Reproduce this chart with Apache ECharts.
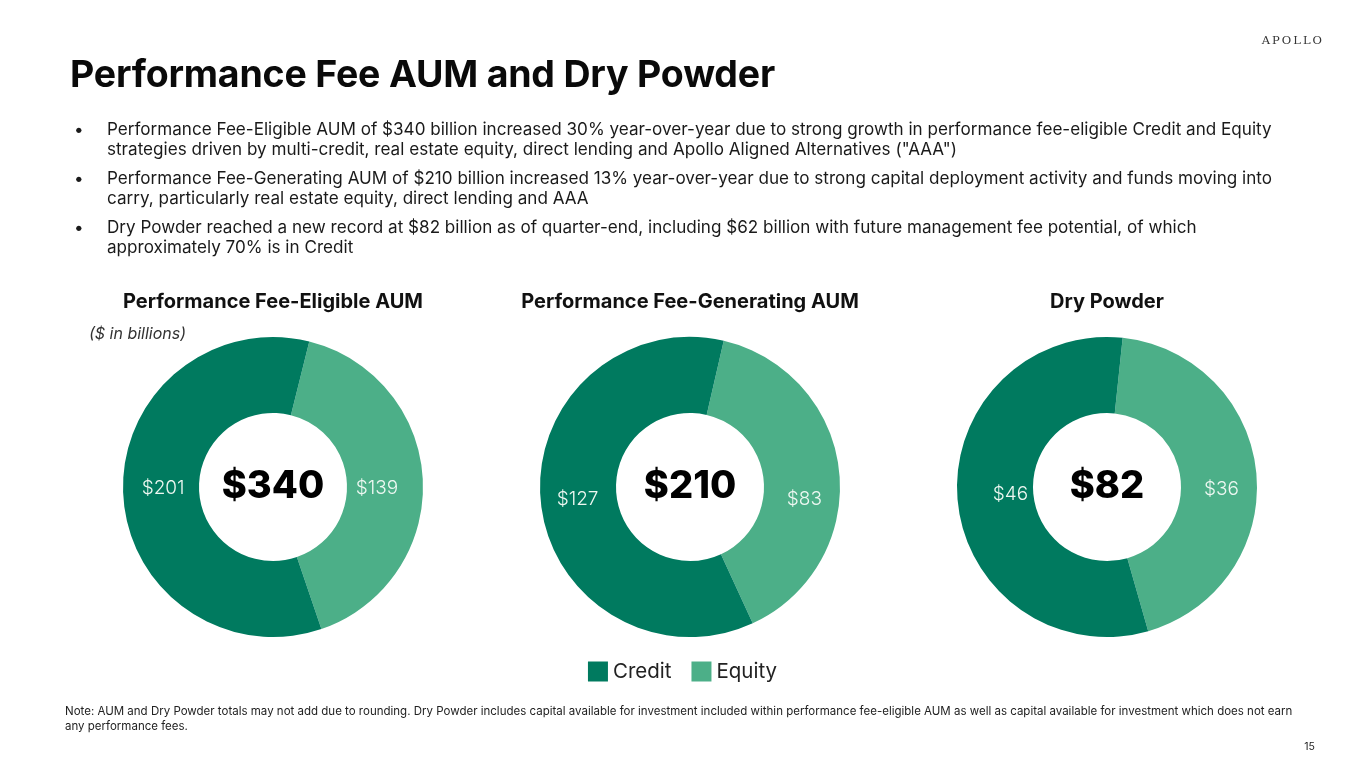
<!DOCTYPE html>
<html>
<head>
<meta charset="utf-8">
<script src="https://cdn.jsdelivr.net/npm/echarts@6/dist/echarts.min.js"></script>
<style>
  html, body { margin: 0; padding: 0; background: #fff; }
  #page { position: relative; width: 1365px; height: 768px; overflow: hidden; font-family: Inter, "Noto Sans", sans-serif; color: #111; }
  #chart { position: absolute; left: 0; top: 0; width: 1365px; height: 768px; }
  .abs { position: absolute; white-space: nowrap; }
  #logo { right: 41px; top: 33px; font-family: "DejaVu Serif", "Liberation Serif", serif; font-size: 11.5px; letter-spacing: 2px; color: #333; }
  #title { left: 70px; top: 51px; font-size: 37.5px; font-weight: 700; letter-spacing: -0.2px; color: #0a0a0a; }
  #bullets { left: 74px; top: 119px; font-size: 17.1px; line-height: 20px; color: #1a1a1a; }
  #bullets .b { position: relative; padding-left: 33px; margin-bottom: 9px; }
  #bullets .b:before { content: "\2022"; position: absolute; left: 0; top: 0; }
  #note { left: 65px; top: 704px; font-size: 11.5px; line-height: 15px; color: #222; }
  #pagenum { right: 50px; top: 740px; font-size: 10.5px; color: #222; }
  #unit { left: 89px; top: 323px; font-size: 16px; font-style: italic; color: #333; }
</style>
</head>
<body>
<div id="page">
  <div id="chart"></div>
  <div id="logo" class="abs">APOLLO</div>
  <div id="title" class="abs">Performance Fee AUM and Dry Powder</div>
  <div id="bullets" class="abs">
    <div class="b">Performance Fee-Eligible AUM of $340 billion increased 30% year-over-year due to strong growth in performance fee-eligible Credit and Equity<br>strategies driven by multi-credit, real estate equity, direct lending and Apollo Aligned Alternatives ("AAA")</div>
    <div class="b">Performance Fee-Generating AUM of $210 billion increased 13% year-over-year due to strong capital deployment activity and funds moving into<br>carry, particularly real estate equity, direct lending and AAA</div>
    <div class="b">Dry Powder reached a new record at $82 billion as of quarter-end, including $62 billion with future management fee potential, of which<br>approximately 70% is in Credit</div>
  </div>
  <div id="unit" class="abs">($ in billions)</div>
  <div id="note" class="abs">Note: AUM and Dry Powder totals may not add due to rounding. Dry Powder includes capital available for investment included within performance fee-eligible AUM as well as capital available for investment which does not earn<br>any performance fees.</div>
  <div id="pagenum" class="abs">15</div>
</div>
<script>
// 数据
var chartNames = ['Performance Fee-Eligible AUM', 'Performance Fee-Generating AUM', 'Dry Powder'];
var credit = [201, 127, 46];
var equity = [139, 83, 36];
var totals = [340, 210, 82];
var seriesNames = ['Credit', 'Equity'];

// 样式
var darkGreen = '#007a5f';
var lightGreen = '#4caf88';
var centersX = [273, 690, 1107];
var centerY = 487;
var startAngles = [76, 77, 84];
var creditLabelOffset = [[5, -4], [2, 1], [18, -3]];
var equityLabelOffset = [[-11, 6], [0, 24], [0, 12]];

var myChart = echarts.init(document.getElementById('chart'), null, { renderer: 'canvas' });

var series = [];
var graphics = [];
for (var i = 0; i < chartNames.length; i++) {
    series.push({
        name: chartNames[i],
        type: 'pie',
        center: [centersX[i], centerY],
        radius: [74, 150],
        startAngle: startAngles[i],
        clockwise: true,
        avoidLabelOverlap: false,
        silent: true,
        label: {
            show: true,
            position: 'inside',
            formatter: '${c}',
            color: '#eef8f2',
            fontSize: 19,
            fontWeight: 300,
            fontFamily: 'Inter'
        },
        labelLine: { show: false },
        itemStyle: { borderWidth: 0 },
        data: [
            { name: seriesNames[1], value: equity[i], itemStyle: { color: lightGreen }, label: { offset: equityLabelOffset[i] } },
            { name: seriesNames[0], value: credit[i], itemStyle: { color: darkGreen }, label: { offset: creditLabelOffset[i] } }
        ]
    });
    graphics.push({
        type: 'text',
        x: centersX[i],
        y: 302,
        style: {
            text: chartNames[i],
            align: 'center',
            verticalAlign: 'middle',
            fontSize: 20,
            fontWeight: 700,
            fontFamily: 'Inter',
            fill: '#111'
        }
    });
    graphics.push({
        type: 'text',
        x: centersX[i],
        y: centerY,
        style: {
            text: '$' + totals[i],
            align: 'center',
            verticalAlign: 'middle',
            fontSize: 38,
            fontWeight: 800,
            fontFamily: 'Inter',
            fill: '#000'
        }
    });
}

var option = {
    animation: false,
    legend: {
        data: seriesNames,
        left: 'center',
        top: 656,
        icon: 'rect',
        itemWidth: 20,
        itemHeight: 20,
        itemGap: 20,
        selectedMode: false,
        textStyle: { fontSize: 20.5, fontFamily: 'Inter', color: '#222' }
    },
    graphic: graphics,
    series: series
};

myChart.setOption(option);
</script>
</body>
</html>
